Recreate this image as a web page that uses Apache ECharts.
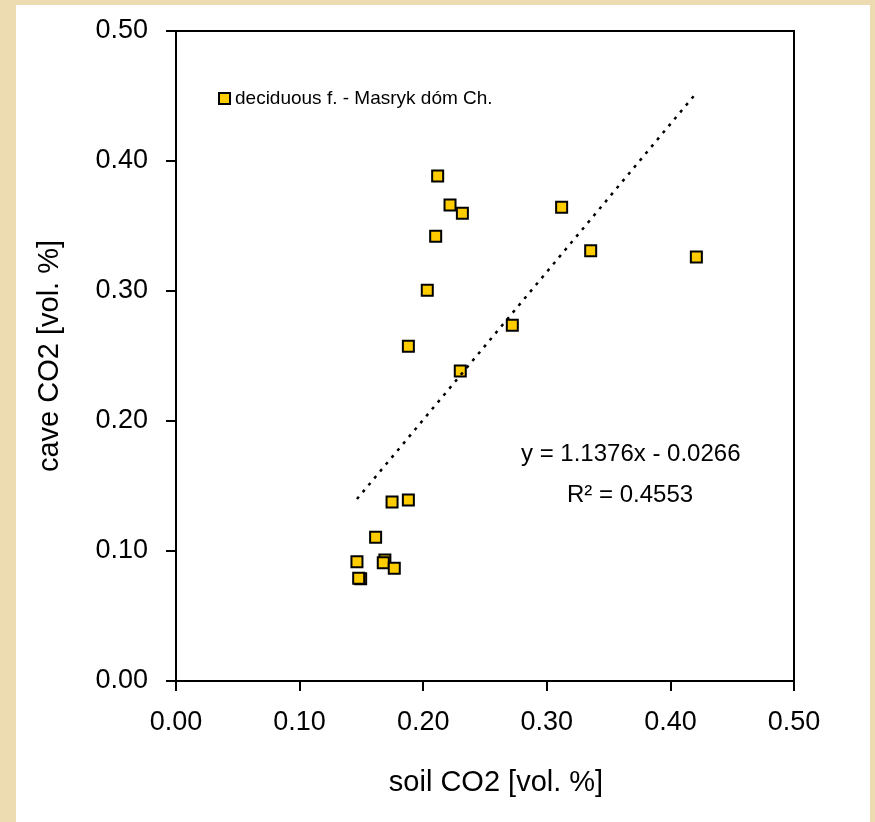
<!DOCTYPE html>
<html>
<head>
<meta charset="utf-8">
<script src="https://cdn.jsdelivr.net/npm/echarts@6/dist/echarts.min.js"></script>
<style>
html,body{margin:0;padding:0;background:#EDDBB1;}
#chart{width:875px;height:822px;}
</style>
</head>
<body>
<div id="chart"></div>
<script>
// Data
var seriesName = 'deciduous f. - Masryk dóm Ch.';
var soilCO2 = [0.2117, 0.2217, 0.2317, 0.2101, 0.2033, 0.1880, 0.2300, 0.2721, 0.3120, 0.3355, 0.4210,
               0.1748, 0.1880, 0.1615, 0.1464, 0.1690, 0.1677, 0.1766, 0.1494, 0.1478];
var caveCO2 = [0.3885, 0.3662, 0.3598, 0.3421, 0.3005, 0.2575, 0.2385, 0.2736, 0.3644, 0.3310, 0.3262,
               0.1377, 0.1392, 0.1105, 0.0918, 0.0930, 0.0910, 0.0867, 0.0787, 0.0790];
var xTicks = [0.00, 0.10, 0.20, 0.30, 0.40, 0.50];
var yTicks = [0.00, 0.10, 0.20, 0.30, 0.40, 0.50];
var trendSlope = 1.1376;
var trendIntercept = -0.0266;
var r2 = 0.4553;
var xTitle = 'soil CO2 [vol. %]';
var yTitle = 'cave CO2 [vol. %]';

var points = soilCO2.map(function (x, i) { return [x, caveCO2[i]]; });
var xMin = Math.min.apply(null, soilCO2), xMax = Math.max.apply(null, soilCO2);
var trend = [[xMin, trendSlope * xMin + trendIntercept], [xMax, trendSlope * xMax + trendIntercept]];
var eqText = 'y = ' + trendSlope.toFixed(4) + 'x - ' + Math.abs(trendIntercept).toFixed(4);

var chart = echarts.init(document.getElementById('chart'), null, {renderer: 'canvas'});
var font = 'Liberation Sans, Arial, sans-serif';
chart.setOption({
  backgroundColor: '#EDDBB1',
  animation: false,
  textStyle: {fontFamily: font, color: '#000'},
  graphic: [
    {type: 'rect', left: 16, top: 5, shape: {width: 854, height: 817}, style: {fill: '#fff'}, z: -10},
    {type: 'text', left: 521, top: 442, style: {text: eqText, font: '24px ' + font, fill: '#000'}, z: 10},
    {type: 'text', left: 567, top: 483, style: {text: 'R² = ' + r2.toFixed(4), font: '24px ' + font, fill: '#000'}, z: 10}
  ],
  grid: {left: 176, top: 31, right: 81, bottom: 141, show: true, borderColor: '#000', borderWidth: 2, backgroundColor: '#fff'},
  legend: {
    show: true, left: 213, top: 84, data: [seriesName], icon: 'rect', itemWidth: 11, itemHeight: 11, itemGap: 6,
    textStyle: {fontSize: 19, color: '#000', fontFamily: font}
  },
  xAxis: {
    type: 'value', min: xTicks[0], max: xTicks[xTicks.length - 1], interval: 0.1,
    name: xTitle, nameLocation: 'middle', nameGap: 87,
    nameTextStyle: {fontSize: 29, color: '#000', padding: [0, 0, 0, 22]},
    axisLine: {show: true, onZero: false, lineStyle: {color: '#000', width: 2}},
    axisTick: {show: true, inside: false, length: 10, lineStyle: {color: '#000', width: 2}},
    axisLabel: {fontSize: 27, color: '#000', margin: 28, formatter: function (v) { return v.toFixed(2); }},
    splitLine: {show: false}
  },
  yAxis: {
    type: 'value', min: yTicks[0], max: yTicks[yTicks.length - 1], interval: 0.1,
    name: yTitle, nameLocation: 'middle', nameGap: 112, nameRotate: 90, nameTextStyle: {fontSize: 29, color: '#000'},
    axisLine: {show: true, onZero: false, lineStyle: {color: '#000', width: 2}},
    axisTick: {show: true, inside: false, length: 10, lineStyle: {color: '#000', width: 2}},
    axisLabel: {fontSize: 27, color: '#000', margin: 28, formatter: function (v) { return v.toFixed(2); }},
    splitLine: {show: false}
  },
  series: [
    {
      name: seriesName, type: 'scatter', data: points, symbol: 'rect', symbolSize: 11,
      itemStyle: {color: '#FFCC00', borderColor: '#000', borderWidth: 2, opacity: 1}, z: 3
    },
    {
      name: 'trend', type: 'line', data: trend, showSymbol: false, symbol: 'none', silent: true,
      lineStyle: {color: '#000', width: 2.5, type: [3, 6]}, z: 5
    }
  ]
});
</script>
</body>
</html>
